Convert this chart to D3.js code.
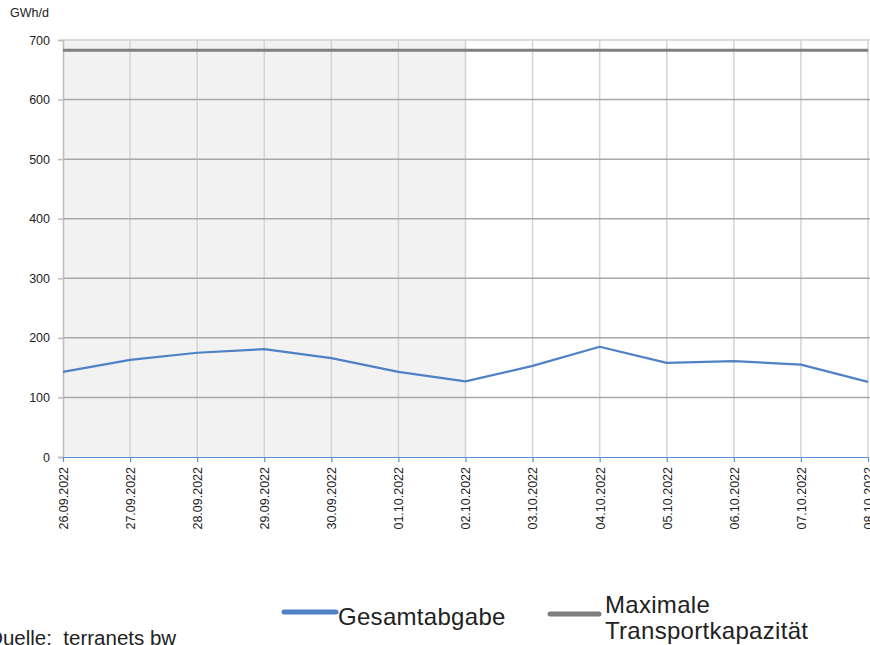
<!DOCTYPE html>
<html>
<head>
<meta charset="utf-8">
<script src="https://cdn.jsdelivr.net/npm/d3@7"></script>
<style>
  body { margin: 0; background: #fff; }
  svg { display: block; font-family: "Liberation Sans", Arial, sans-serif; }
</style>
</head>
<body>
<div id="chart"></div>
<script>
var dates = ["26.09.2022", "27.09.2022", "28.09.2022", "29.09.2022", "30.09.2022", "01.10.2022",
    "02.10.2022", "03.10.2022", "04.10.2022", "05.10.2022", "06.10.2022", "07.10.2022", "08.10.2022"];
var gesamtabgabe = [143, 163, 175, 181, 166, 143, 127, 153, 185, 158, 161, 155, 126];
var maxKapazitaet = [683, 683, 683, 683, 683, 683, 683, 683, 683, 683, 683, 683, 683];
var shadedUntil = "02.10.2022";
var yTicks = [0, 100, 200, 300, 400, 500, 600, 700];

function createChart(div) {
    var width = 870, height = 645;
    var left = 63, right = 868, top = 40, bottom = 457;
    var font = "Liberation Sans, Arial, sans-serif";

    var svg = d3.select(div)
        .append("svg")
        .attr("width", width)
        .attr("height", height);

    var x = d3.scalePoint()
        .domain(dates)
        .range([left, right]);

    var y = d3.scaleLinear()
        .domain([0, 700])
        .range([bottom, top]);

    // grey background for past days
    svg.append("rect")
        .attr("x", x(dates[0]))
        .attr("y", y(700))
        .attr("width", x(shadedUntil) - x(dates[0]))
        .attr("height", y(0) - y(700))
        .attr("fill", "#f2f2f2");

    // vertical grid
    svg.append("g")
        .selectAll("line")
        .data(dates.slice(1))
        .enter()
        .append("line")
        .attr("x1", function(d) { return x(d); })
        .attr("x2", function(d) { return x(d); })
        .attr("y1", y(700))
        .attr("y2", y(0))
        .attr("stroke", "#d4d4d4")
        .attr("stroke-width", 1.5);

    // horizontal grid
    svg.append("g")
        .selectAll("line")
        .data(yTicks.slice(1))
        .enter()
        .append("line")
        .attr("x1", left)
        .attr("x2", right + 2)
        .attr("y1", function(d) { return y(d); })
        .attr("y2", function(d) { return y(d); })
        .attr("stroke", function(d) { return d == 700 ? "#d0d0d0" : "#a8a8a8"; })
        .attr("stroke-width", 1.5);

    // y axis
    var yAxis = svg.append("g")
        .attr("transform", "translate(" + left + ",0)")
        .call(d3.axisLeft(y).tickValues(yTicks).tickSize(5).tickPadding(8));
    yAxis.select(".domain").attr("stroke", "#bdbdbd").attr("stroke-width", 1.5);
    yAxis.selectAll(".tick line").attr("stroke", "#bdbdbd").attr("stroke-width", 1.5);
    yAxis.selectAll("text").attr("font-size", "12.5px").attr("fill", "#222")
        .attr("font-family", font);

    // x axis
    var xAxis = svg.append("g")
        .attr("transform", "translate(0," + bottom + ")")
        .call(d3.axisBottom(x).tickSize(5).tickSizeOuter(0));
    xAxis.select(".domain").attr("stroke", "#5b8fd4").attr("stroke-width", 1.2);
    xAxis.selectAll(".tick line").attr("stroke", "#5b8fd4").attr("stroke-width", 1.2);
    xAxis.selectAll("text")
        .attr("font-size", "12.5px")
        .attr("fill", "#222")
        .attr("font-family", font)
        .attr("text-anchor", "end")
        .attr("transform", "rotate(-90)")
        .attr("x", -10)
        .attr("y", 0)
        .attr("dy", "0.35em");

    // capacity line
    svg.append("path")
        .datum(maxKapazitaet)
        .attr("fill", "none")
        .attr("stroke", "#7f7f7f")
        .attr("stroke-width", 3)
        .attr("d", d3.line()
            .x(function(d, i) { return x(dates[i]); })
            .y(function(d) { return y(d); }));

    // gesamtabgabe line
    svg.append("path")
        .datum(gesamtabgabe)
        .attr("fill", "none")
        .attr("stroke", "#4f81c4")
        .attr("stroke-width", 2.2)
        .attr("stroke-linejoin", "round")
        .attr("d", d3.line()
            .x(function(d, i) { return x(dates[i]); })
            .y(function(d) { return y(d); }));

    // unit label
    svg.append("text")
        .attr("x", 10)
        .attr("y", 17)
        .attr("font-size", "12.5px")
        .attr("fill", "#222")
        .text("GWh/d");

    // legend
    var legend = svg.append("g")
        .attr("font-family", font)
        .attr("font-size", "24px")
        .attr("letter-spacing", "0.3px")
        .attr("fill", "#222");
    legend.append("line")
        .attr("x1", 284).attr("x2", 336)
        .attr("y1", 612).attr("y2", 612)
        .attr("stroke", "#4f81c4").attr("stroke-width", 5).attr("stroke-linecap", "round");
    legend.append("text")
        .attr("x", 338).attr("y", 625)
        .text("Gesamtabgabe");
    legend.append("line")
        .attr("x1", 550).attr("x2", 599)
        .attr("y1", 614).attr("y2", 614)
        .attr("stroke", "#7f7f7f").attr("stroke-width", 5).attr("stroke-linecap", "round");
    legend.append("text")
        .attr("x", 605).attr("y", 613)
        .text("Maximale");
    legend.append("text")
        .attr("x", 605).attr("y", 639)
        .text("Transportkapazität");

    svg.append("text")
        .attr("x", -13).attr("y", 645)
        .attr("font-size", "20.5px")
        .attr("font-family", font)
        .attr("fill", "#222")
        .attr("xml:space", "preserve")
        .style("white-space", "pre")
        .text("Quelle:  terranets bw");
}

createChart("#chart");
</script>
</body>
</html>
